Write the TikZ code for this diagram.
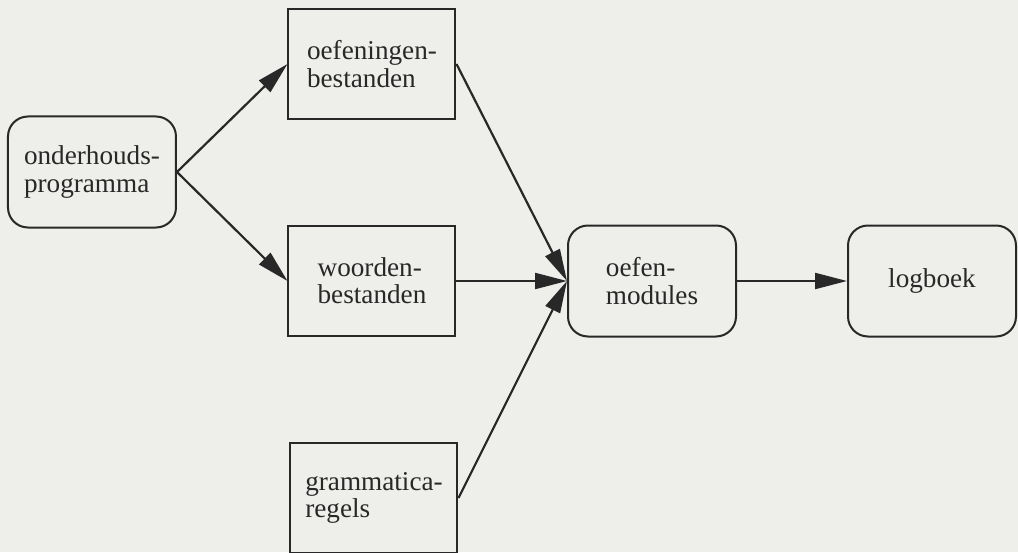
\documentclass[tikz,border=0pt]{standalone}
\usepackage{fontspec}
\setmainfont{Liberation Serif}
\usepackage{xcolor}
\usetikzlibrary{arrows.meta}
\definecolor{paper}{RGB}{238,238,235}
\definecolor{ink}{RGB}{40,40,40}
\tikzstyle{module} = [rectangle, rounded corners=10pt, minimum width=84pt, minimum height=55.5pt, align=left, draw=ink, line width=1pt]
\tikzstyle{datafile} = [rectangle, minimum width=83.5pt, minimum height=55pt, align=left, draw=ink, line width=1pt]
\tikzstyle{arrow} = [draw=ink, line width=1.1pt, -{Triangle[length=16pt,width=8pt]}]

\begin{document}
\begin{tikzpicture}[node distance = 108.5pt, every node/.style={text=ink, font=\fontsize{13.6}{13.6}\selectfont}]

	\fill[paper] (-186pt,-135.5pt) rectangle (323pt,140.5pt);
	\useasboundingbox (-186pt,-135.5pt) rectangle (323pt,140.5pt);

	\node (woorden) [datafile] at (0,0) {woorden-\\bestanden};
	\node (oefeningen) [datafile,above of=woorden] {oefeningen-\\bestanden};
	\node (grammatica) [datafile,below of=woorden,xshift=1pt] {grammatica-\\regels};
	\node (onderhoud) [module,node distance=140pt,left of=woorden,yshift=54.5pt] {onderhouds-\\programma};
	\node (oefen) [module,node distance=140pt,right of=woorden] {oefen-\\modules};
	\node (logboek) [module,node distance=140pt,right of=oefen] {logboek};

	\draw [arrow] (onderhoud.east) -- (oefeningen.west);
	\draw [arrow] (onderhoud.east) -- (woorden.west);
	\draw [arrow] (oefeningen.east) -- (oefen.west);
	\draw [arrow] (woorden.east) -- (oefen.west);
	\draw [arrow] (grammatica.east) -- (oefen.west);
	\draw [arrow] (oefen) -- (logboek);

\end{tikzpicture}
\end{document}
